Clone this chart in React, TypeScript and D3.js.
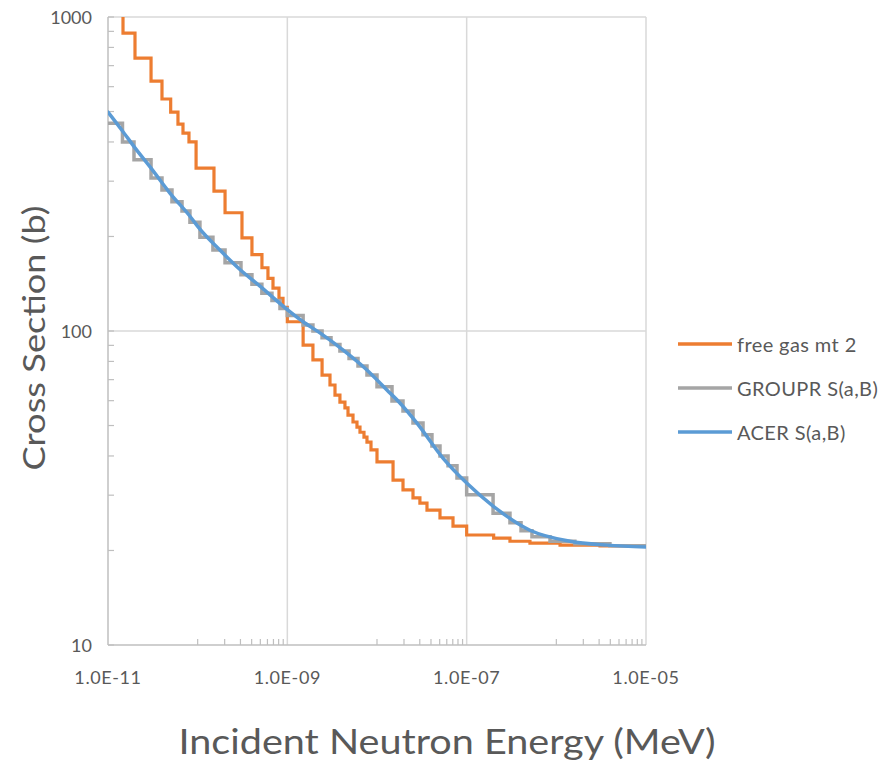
import React from "react";
import * as d3 from "d3";

// ---- data ----
const energyTickValues = [1e-11, 1e-9, 1e-7, 1e-5];
const energyTickLabels = ["1.0E-11", "1.0E-09", "1.0E-07", "1.0E-05"];
const minorDecades = [1e-10, 1e-8, 1e-6];
const sigmaTickValues = [10, 100, 1000];
const sigmaTickLabels = ["10", "100", "1000"];
const sigmaMinorDecades = [10, 100];

const seriesNames = ["free gas mt 2", "GROUPR S(a,B)", "ACER S(a,B)"];
const seriesColors = ["#ED7D31", "#A5A5A5", "#5B9BD5"];

// free gas mt 2 : histogram, bin edges (MeV) and values (b)
const freeGasEdges = [
  1e-11, 1.47e-11, 2.0e-11, 3.02e-11, 4.0e-11, 5.0e-11, 6.03e-11, 6.86e-11, 8.0e-11, 9.6e-11,
  1.52e-10, 2.02e-10, 3.12e-10, 4.03e-10, 5.21e-10, 6.08e-10, 6.92e-10, 8.07e-10, 8.95e-10, 1.0e-9,
  1.5e-9, 1.93e-9, 2.44e-9, 2.99e-9, 3.4e-9, 3.86e-9, 4.39e-9, 4.75e-9, 5.4e-9, 5.98e-9,
  6.46e-9, 7.16e-9, 7.73e-9, 8.57e-9, 1.0e-8, 1.51e-8, 1.95e-8, 2.52e-8, 3.01e-8, 3.61e-8,
  5.04e-8, 7.04e-8, 1.0e-7, 2.0e-7, 3.04e-7, 5.08e-7, 1.1e-6, 3.07e-6, 1e-5,
];
const freeGasValues = [
  1100, 889, 740, 625, 548, 498, 456, 427, 400, 330,
  279, 238, 198, 175, 159, 147, 137, 127, 119, 107,
  90.2, 80.9, 72.4, 67.3, 62.5, 59.4, 56.9, 54.0, 51.3, 49.4,
  47.6, 45.9, 44.3, 41.8, 38.3, 33.5, 31.2, 29.4, 28.3, 26.9,
  25.4, 23.9, 22.4, 21.9, 21.4, 21.1, 20.8, 20.7,
];

// GROUPR S(a,B) : histogram
const grouprEdges = [
  1e-11, 1.45e-11, 1.95e-11, 3.02e-11, 4.0e-11, 5.17e-11, 6.69e-11, 8.2e-11, 1.06e-10, 1.48e-10,
  2.02e-10, 3.04e-10, 4.03e-10, 5.2e-10, 6.74e-10, 8.28e-10, 1.0e-9, 1.5e-9, 1.93e-9, 2.44e-9,
  3.07e-9, 3.86e-9, 4.88e-9, 6.14e-9, 7.73e-9, 1.0e-8, 1.47e-8, 1.95e-8, 2.52e-8, 3.26e-8,
  4.1e-8, 5.04e-8, 6.2e-8, 7.8e-8, 1.0e-7, 1.97e-7, 3.04e-7, 4.04e-7, 5.35e-7, 8.5e-7,
  1.61e-6, 3.96e-6, 1e-5,
];
const grouprValues = [
  459, 400, 351, 307, 281, 258, 241, 222, 199, 181,
  165, 151, 141, 132, 125, 118, 112, 104.5, 100, 95.1,
  90.6, 86.3, 81.7, 77.4, 72.4, 66.4, 59.8, 55.6, 50.9, 46.7,
  43.0, 40.0, 37.2, 34.0, 30.1, 26.3, 24.5, 23.1, 22.1, 21.4,
  21.0, 20.7,
];

// ACER S(a,B) : pointwise
const acerEnergy = [
  1e-11, 1.43e-11, 2.0e-11, 3.02e-11, 4.9e-11, 8.2e-11, 1.06e-10, 1.77e-10, 2.96e-10, 4.95e-10,
  1.0e-9, 1.5e-9, 2.31e-9, 4.2e-9, 7.3e-9, 1.29e-8, 1.8e-8, 2.79e-8, 5.44e-8, 1.0e-7,
  1.97e-7, 5.08e-7, 1.42e-6, 3.67e-6, 1e-5,
];
const acerSigma = [
  498, 436, 383, 330, 275, 232, 211, 181, 157, 139,
  117, 107, 98.6, 86.9, 76.2, 64.9, 59.0, 50.9, 39.4, 32.8,
  27.7, 23.2, 21.4, 20.8, 20.5,
];

const W = 883;
const H = 761;
const PL = 108, PR = 646, PT = 17, PB = 645;
const TEXT = "#595959";
const FONT = "Lato, 'Open Sans', 'DejaVu Sans', sans-serif";

export default function App() {
  const x = d3.scaleLog().domain([1e-11, 1e-5]).range([PL, PR]);
  const y = d3.scaleLog().domain([10, 1000]).range([PB, PT]);

  const stepLine = d3
    .line<[number, number]>()
    .x((d) => x(d[0]))
    .y((d) => y(d[1]))
    .curve(d3.curveStepAfter);

  const histPoints = (edges: number[], vals: number[]): [number, number][] => {
    const pts: [number, number][] = vals.map((v, i) => [edges[i], v]);
    pts.push([edges[edges.length - 1], vals[vals.length - 1]]);
    return pts;
  };

  const smoothLine = d3
    .line<[number, number]>()
    .x((d) => x(d[0]))
    .y((d) => y(d[1]))
    .curve(d3.curveMonotoneX);

  const acerPts: [number, number][] = acerEnergy.map((e, i) => [e, acerSigma[i]]);

  const xMinor: number[] = [];
  minorDecades.forEach((d) => {
    for (let k = 1; k <= 9; k++) xMinor.push(k * d);
  });
  const yMinor: number[] = [];
  sigmaMinorDecades.forEach((d) => {
    for (let k = 2; k <= 9; k++) yMinor.push(k * d);
  });

  const legendY = [344, 388, 432];

  return (
    <svg
      width={W}
      height={H}
      style={{ position: "absolute", left: 0, top: 0, background: "#fff" }}
      fontFamily={FONT}
    >
      <defs>
        <clipPath id="plotClip">
          <rect x={PL} y={PT} width={PR - PL} height={PB - PT} />
        </clipPath>
      </defs>
      <rect x={0} y={0} width={W} height={H} fill="#fff" />

      {/* gridlines */}
      {sigmaTickValues.slice(1).map((v) => (
        <line key={"gy" + v} x1={PL} x2={PR} y1={y(v)} y2={y(v)} stroke="#D9D9D9" strokeWidth={1.5} />
      ))}
      {energyTickValues.slice(1).map((v) => (
        <line key={"gx" + v} x1={x(v)} x2={x(v)} y1={PT} y2={PB} stroke="#D9D9D9" strokeWidth={1.5} />
      ))}

      {/* axes */}
      <line x1={PL} x2={PL} y1={PT} y2={PB} stroke="#BFBFBF" strokeWidth={1.5} />
      <line x1={PL} x2={PR} y1={PB} y2={PB} stroke="#BFBFBF" strokeWidth={1.5} />
      {yMinor.map((v) => (
        <line key={"ym" + v} x1={PL} x2={PL + 6} y1={y(v)} y2={y(v)} stroke="#BFBFBF" strokeWidth={1.2} />
      ))}
      {sigmaTickValues.map((v) => (
        <line key={"yM" + v} x1={PL} x2={PL + 6} y1={y(v)} y2={y(v)} stroke="#BFBFBF" strokeWidth={1.2} />
      ))}
      {xMinor.map((v) => (
        <line key={"xm" + v} x1={x(v)} x2={x(v)} y1={PB} y2={PB - 6} stroke="#BFBFBF" strokeWidth={1.2} />
      ))}

      {/* tick labels */}
      {sigmaTickValues.map((v, i) => (
        <text key={"yl" + v} x={92} y={y(v)} textAnchor="end" dominantBaseline="central" fontSize={18} fill={TEXT}>
          {sigmaTickLabels[i]}
        </text>
      ))}
      {energyTickValues.map((v, i) => (
        <text
          key={"xl" + v}
          x={x(v)}
          y={677}
          textAnchor="middle"
          dominantBaseline="central"
          fontSize={18}
          letterSpacing={0.6}
          fill={TEXT}
        >
          {energyTickLabels[i]}
        </text>
      ))}

      {/* series */}
      <g clipPath="url(#plotClip)" fill="none" strokeLinejoin="miter">
        <path d={stepLine(histPoints(freeGasEdges, freeGasValues)) || ""} stroke={seriesColors[0]} strokeWidth={3.2} />
        <path d={stepLine(histPoints(grouprEdges, grouprValues)) || ""} stroke={seriesColors[1]} strokeWidth={3.5} />
        <path d={smoothLine(acerPts) || ""} stroke={seriesColors[2]} strokeWidth={3.5} strokeLinecap="round" />
      </g>

      {/* axis titles */}
      <text
        x={447}
        y={740}
        textAnchor="middle"
        dominantBaseline="central"
        fontSize={34}
        fill={TEXT}
        textLength={537}
        lengthAdjust="spacingAndGlyphs"
      >
        Incident Neutron Energy (MeV)
      </text>
      <text
        transform={`translate(33,${338}) rotate(-90)`}
        textAnchor="middle"
        dominantBaseline="central"
        fontSize={31}
        fill={TEXT}
        textLength={265}
        lengthAdjust="spacingAndGlyphs"
      >
        Cross Section (b)
      </text>

      {/* legend */}
      {seriesNames.map((n, i) => (
        <g key={n}>
          <line x1={678} x2={732} y1={legendY[i]} y2={legendY[i]} stroke={seriesColors[i]} strokeWidth={3.5} />
          <text x={737} y={legendY[i]} dominantBaseline="central" fontSize={20} letterSpacing={0.4} fill={TEXT}>
            {n}
          </text>
        </g>
      ))}
    </svg>
  );
}
